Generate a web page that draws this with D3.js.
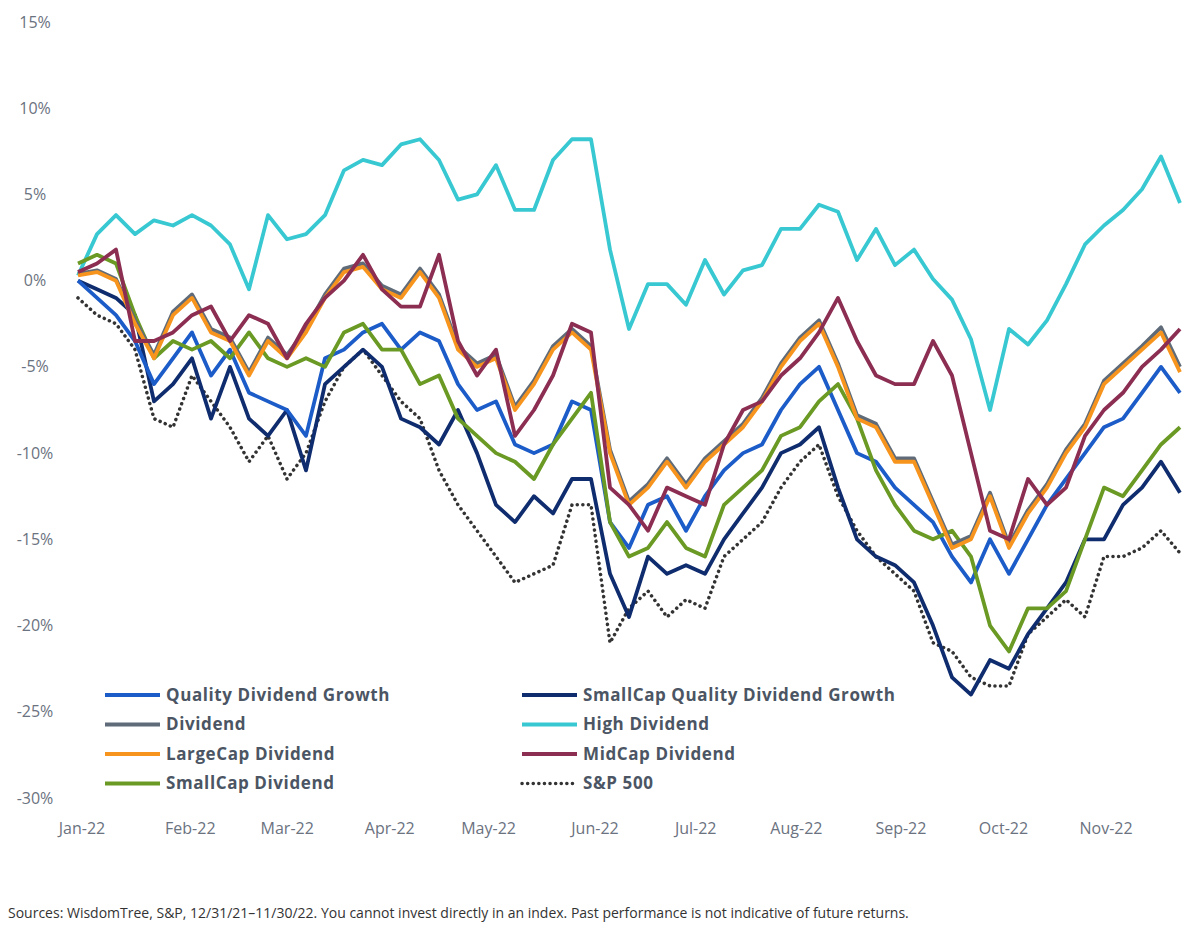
<!DOCTYPE html>
<html lang="en">
<head>
<meta charset="utf-8">
<title>WisdomTree dividend indexes 2022</title>
<script src="https://cdn.jsdelivr.net/npm/d3@7/dist/d3.min.js"></script>
<style>
  body { margin: 0; background: #fff; }
  text { font-family: "Source Sans Pro", "Open Sans", "Noto Sans", sans-serif; }
</style>
</head>
<body>
<script>
// sample points, roughly every 6 calendar days from 12/31/21 to 11/30/22
var monthLabels = ["Jan-22", "Feb-22", "Mar-22", "Apr-22", "May-22", "Jun-22", "Jul-22", "Aug-22", "Sep-22", "Oct-22", "Nov-22"];
var monthPos = [0, 5.7, 10.8, 16.2, 21.4, 27, 32.3, 37.6, 43.1, 48.5, 53.9];
var yTicks = [15, 10, 5, 0, -5, -10, -15, -20, -25, -30];

var qualityDivGrowth = [0, -1, -2, -3.5, -6, -4.5, -3, -5.5, -4, -6.5, -7, -7.5, -9, -4.5, -4, -3, -2.5, -4, -3, -3.5, -6, -7.5, -7, -9.5, -10, -9.5, -7, -7.5, -14, -15.5, -13, -12.5, -14.5, -12.5, -11, -10, -9.5, -7.5, -6, -5, -7.5, -10, -10.5, -12, -13, -14, -16, -17.5, -15, -17, -15, -13, -11.5, -10, -8.5, -8, -6.5, -5, -6.5];
var smallCapQDG = [0, -0.5, -1, -2, -7, -6, -4.5, -8, -5, -8, -9, -7.5, -11, -6, -5, -4, -5, -8, -8.5, -9.5, -7.5, -10, -13, -14, -12.5, -13.5, -11.5, -11.5, -17, -19.5, -16, -17, -16.5, -17, -15, -13.5, -12, -10, -9.5, -8.5, -12, -15, -16, -16.5, -17.5, -20, -23, -24, -22, -22.5, -20.5, -19, -17.5, -15, -15, -13, -12, -10.5, -12.3];
var dividend = [0.4, 0.6, 0.1, -2.3, -4.3, -1.8, -0.8, -2.8, -3.3, -5.3, -3.3, -4.3, -2.8, -0.8, 0.7, 1.0, -0.3, -0.8, 0.7, -0.8, -3.8, -4.8, -4.3, -7.3, -5.8, -3.8, -2.8, -3.8, -9.8, -12.8, -11.8, -10.3, -11.8, -10.3, -9.3, -8.3, -6.8, -4.8, -3.3, -2.3, -4.8, -7.8, -8.3, -10.3, -10.3, -12.8, -15.3, -14.8, -12.3, -15.3, -13.3, -11.8, -9.8, -8.3, -5.8, -4.8, -3.8, -2.7, -5.0];
var highDividend = [0.3, 2.7, 3.8, 2.7, 3.5, 3.2, 3.8, 3.2, 2.1, -0.5, 3.8, 2.4, 2.7, 3.8, 6.4, 7.0, 6.7, 7.9, 8.2, 7.0, 4.7, 5.0, 6.7, 4.1, 4.1, 7.0, 8.2, 8.2, 1.8, -2.8, -0.2, -0.2, -1.4, 1.2, -0.8, 0.6, 0.9, 3.0, 3.0, 4.4, 4.0, 1.2, 3.0, 0.9, 1.8, 0.1, -1.1, -3.4, -7.5, -2.8, -3.7, -2.3, -0.2, 2.1, 3.2, 4.1, 5.3, 7.2, 4.5];
var largeCapDividend = [0.3, 0.5, 0, -2.5, -4.5, -2, -1, -3, -3.5, -5.5, -3.5, -4.5, -3, -1, 0.5, 0.8, -0.5, -1, 0.5, -1, -4, -5, -4.5, -7.5, -6, -4, -3, -4, -10, -13, -12, -10.5, -12, -10.5, -9.5, -8.5, -7, -5, -3.5, -2.5, -5, -8, -8.5, -10.5, -10.5, -13, -15.5, -15, -12.5, -15.5, -13.5, -12, -10, -8.5, -6, -5, -4, -3, -5.3];
var midCapDividend = [0.5, 1, 1.8, -3.5, -3.5, -3, -2, -1.5, -3.5, -2, -2.5, -4.5, -2.5, -1, 0, 1.5, -0.5, -1.5, -1.5, 1.5, -3.5, -5.5, -4, -9, -7.5, -5.5, -2.5, -3, -12, -13, -14.5, -12, -12.5, -13, -9.5, -7.5, -7, -5.5, -4.5, -3, -1, -3.5, -5.5, -6, -6, -3.5, -5.5, -10, -14.5, -15, -11.5, -13, -12, -9, -7.5, -6.5, -5, -4, -2.8];
var smallCapDividend = [1, 1.5, 1, -2, -4.5, -3.5, -4, -3.5, -4.5, -3, -4.5, -5, -4.5, -5, -3, -2.5, -4, -4, -6, -5.5, -8, -9, -10, -10.5, -11.5, -9.5, -8, -6.5, -14, -16, -15.5, -14, -15.5, -16, -13, -12, -11, -9, -8.5, -7, -6, -8, -11, -13, -14.5, -15, -14.5, -16, -20, -21.5, -19, -19, -18, -15, -12, -12.5, -11, -9.5, -8.5];
var sp500 = [-1, -2, -2.5, -4, -8, -8.5, -5.5, -7, -8.5, -10.5, -9, -11.5, -10, -7, -5, -4, -5.5, -7, -8, -11, -13, -14.5, -16, -17.5, -17, -16.5, -13, -13, -21, -19, -18, -19.5, -18.5, -19, -16, -15, -14, -12, -10.5, -9.5, -12.5, -14.5, -16, -17, -18, -21, -21.5, -23, -23.5, -23.5, -20.5, -19.5, -18.5, -19.5, -16, -16, -15.5, -14.5, -15.8];

var seriesNames = ["S&P 500", "High Dividend", "SmallCap Quality Dividend Growth", "Quality Dividend Growth", "SmallCap Dividend", "Dividend", "LargeCap Dividend", "MidCap Dividend"];
var seriesValues = [sp500, highDividend, smallCapQDG, qualityDivGrowth, smallCapDividend, dividend, largeCapDividend, midCapDividend];
var seriesColors = ["#333333", "#38c8d2", "#0e2c6e", "#1c5cc8", "#6a9a24", "#5f6b78", "#f7941d", "#8c2d52"];

var legendOrder = ["Quality Dividend Growth", "SmallCap Quality Dividend Growth", "Dividend", "High Dividend", "LargeCap Dividend", "MidCap Dividend", "SmallCap Dividend", "S&P 500"];

var width = 1200, height = 935;
var svg = d3.select("body").append("svg").attr("width", width).attr("height", height);

var x = d3.scaleLinear().domain([0, sp500.length - 1]).range([78, 1180]);
var y = d3.scaleLinear().domain([-30, 15]).range([798, 22]);

// y axis labels (no line, no gridlines)
svg.selectAll(".ylab").data(yTicks).enter().append("text")
  .attr("x", 35).attr("y", function (d) { return y(d); }).attr("dy", "0.35em")
  .attr("text-anchor", "middle").style("font-size", "16px").attr("fill", "#6b7280")
  .text(function (d) { return d + "%"; });

// x axis labels
svg.selectAll(".xlab").data(monthLabels).enter().append("text")
  .attr("x", function (d, i) { return x(monthPos[i]) + 4; }).attr("y", 834)
  .attr("text-anchor", "middle").style("font-size", "16px").attr("fill", "#6b7280")
  .text(function (d) { return d; });

var line = d3.line().x(function (d, i) { return x(i); }).y(function (d) { return y(d); });

seriesValues.forEach(function (vals, i) {
  svg.append("path").datum(vals)
    .attr("d", line).attr("fill", "none")
    .attr("stroke", seriesColors[i])
    .attr("stroke-width", i === 0 ? 3.5 : 3.8)
    .attr("stroke-linejoin", "round")
    .attr("stroke-linecap", i === 0 ? "round" : "butt")
    .attr("stroke-dasharray", i === 0 ? "0.1,5.5" : null);
});

// legend, two columns
var leg = svg.selectAll(".leg").data(legendOrder).enter().append("g")
  .attr("transform", function (d, i) {
    return "translate(" + (i % 2 === 0 ? 105 : 522) + "," + (695 + Math.floor(i / 2) * 29.5) + ")";
  });
leg.append("line").attr("x1", 0).attr("x2", 55).attr("y1", 0).attr("y2", 0)
  .attr("stroke", function (d) { return seriesColors[seriesNames.indexOf(d)]; })
  .attr("stroke-width", function (d) { return d === "S&P 500" ? 3.5 : 4; })
  .attr("stroke-linecap", function (d) { return d === "S&P 500" ? "round" : "butt"; })
  .attr("stroke-dasharray", function (d) { return d === "S&P 500" ? "0.1,5.5" : null; });
leg.append("text").attr("x", 61).attr("y", 0).attr("dy", "0.35em")
  .style("font-size", "17px").style("font-weight", "bold").style("letter-spacing", "0.6px")
  .attr("fill", "#4b5563").text(function (d) { return d; });

svg.append("text").attr("x", 8).attr("y", 918)
  .style("font-size", "14px").attr("fill", "#333")
  .text("Sources: WisdomTree, S&P, 12/31/21\u201311/30/22. You cannot invest directly in an index. Past performance is not indicative of future returns.");
</script>
</body>
</html>
